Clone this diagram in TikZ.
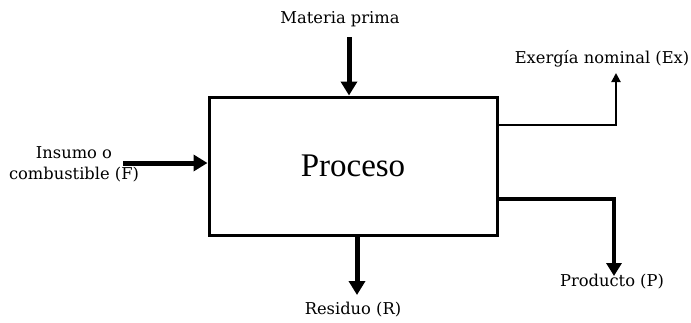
\documentclass[tikz,border=0pt]{standalone}
\usepackage{fontspec}
\setmainfont{Liberation Serif}
\newfontfamily\labelfont{DejaVu Serif}
\usetikzlibrary{positioning}
\usetikzlibrary{arrows.meta}
\tikzset{
    procbox/.style = {rectangle, draw=black, line width=3pt, minimum width=288pt, minimum height=138pt, inner sep=0, font=\fontsize{33}{36}\selectfont},
    mylabel/.style = {align=center, inner sep=0, font=\labelfont\fontsize{16.3}{21}\selectfont, text=black},
    edgeb/.style = {-{Triangle[width=16pt,length=14pt]}, line width=5pt, black},
    edgep/.style = {-{Triangle[width=15pt,length=13pt]}, line width=4pt, black},
    edgex/.style = {-{Triangle[width=9pt,length=9pt]}, line width=2pt, black}, % exergia
}

\begin{document}
\begin{tikzpicture}[x=1pt,y=-1pt]
\useasboundingbox (0,0) rectangle (691,322);
\node[procbox] at (353.00, 166.00) (proc) {Proceso};
\node[mylabel] at (340.00,  19.00) (mp) {Materia prima};
\node[mylabel] at ( 74.00, 164.00) (ins) {Insumo o\\combustible (F)};
\node[mylabel] at (602.00,  59.00) (ex) {Exergía nominal (Ex)};
\node[mylabel] at (612.00, 282.00) (prod) {Producto (P)};
\node[mylabel] at (353.00, 310.00) (res) {Residuo (R)};

\coordinate (mpa) at (349.00,  37.00);
\coordinate (insa) at (123.00, 163.00);
\coordinate (exa) at (616.00, 125.00);
\coordinate (exb) at (616.00,  73.00);
\coordinate (proda) at (614.00, 199.00);
\coordinate (prodb) at (614.00, 276.00);
\coordinate (resa) at (357.00, 295.00);

\draw[edgeb] (mpa) -- (mpa |- proc.north);
\draw[edgeb] (insa) -- (proc.west |- insa);
\draw[edgex] (proc.east |- exa) -- (exa) -- (exb);
\draw[edgep] (proc.east |- proda) -- (proda) -- (prodb);
\draw[edgeb] (proc.south -| resa) -- (resa);

\end{tikzpicture}
\end{document}
